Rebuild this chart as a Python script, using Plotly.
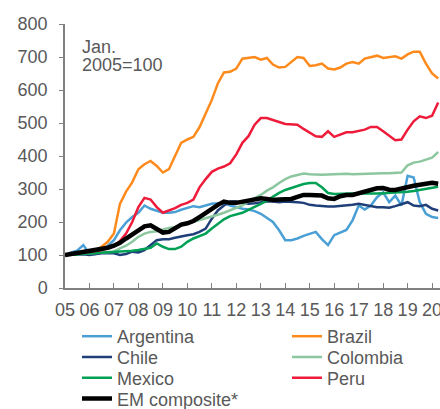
import pandas as pd
import plotly.graph_objects as go

# quarterly readings, Jan. 2005 = 100
dates = pd.date_range("2005-01-01", periods=62, freq="QS")

argentina = [100, 108, 113, 130, 104, 103, 115, 128, 145, 175, 198, 215,
             228, 250, 240, 233, 228, 228, 230, 237, 243, 248, 245, 250,
             255, 257, 257, 250, 245, 240, 238, 233, 225, 212, 200, 175,
             145, 145, 150, 158, 165, 170, 148, 130, 160, 168, 176, 205,
             250, 238, 250, 275, 290, 260, 280, 250, 340, 335, 260, 225,
             215, 212]
brazil = [100, 103, 102, 105, 110, 112, 125, 140, 165, 255, 292, 320,
          360, 375, 385, 370, 350, 360, 400, 440, 450, 458, 487, 530,
          570, 620, 653, 655, 665, 695, 697, 700, 692, 697, 677, 668,
          670, 685, 700, 697, 673, 675, 680, 665, 662, 668, 680, 685,
          680, 695, 700, 704, 697, 700, 702, 695, 708, 716, 716, 680,
          650, 635]
chile = [100, 101, 103, 102, 100, 103, 105, 106, 105, 100, 103, 110,
         108, 115, 130, 145, 148, 148, 152, 157, 160, 163, 170, 180,
         210, 235, 250, 262, 262, 258, 255, 257, 260, 262, 262, 260,
         262, 262, 260, 258, 252, 250, 248, 247, 247, 248, 250, 252,
         255, 252, 248, 245, 245, 243, 248, 255, 260, 250, 248, 252,
         240, 235]
colombia = [100, 101, 102, 104, 105, 106, 106, 107, 110, 120, 128, 140,
            155, 165, 170, 172, 178, 182, 185, 190, 195, 200, 205, 210,
            215, 222, 228, 235, 242, 250, 262, 272, 282, 295, 305, 318,
            330, 338, 343, 347, 345, 343, 343, 344, 345, 345, 346, 345,
            346, 347, 348, 347, 348, 348, 348, 350, 372, 380, 383, 388,
            395, 412]
mexico = [100, 101, 103, 104, 106, 107, 106, 107, 108, 110, 112, 113,
          115, 118, 122, 135, 125, 118, 118, 125, 140, 150, 157, 165,
          180, 195, 208, 218, 222, 228, 237, 245, 255, 265, 277, 288,
          297, 303, 310, 315, 318, 318, 305, 288, 285, 286, 286, 287,
          287, 286, 285, 286, 287, 288, 288, 290, 292, 294, 297, 299,
          302, 307]
peru = [100, 102, 104, 106, 108, 112, 115, 120, 128, 142, 165, 200,
        245, 273, 268, 245, 228, 235, 242, 252, 258, 268, 305, 330,
        352, 362, 368, 378, 405, 440, 460, 495, 515, 515, 510, 503,
        497, 497, 495, 482, 470, 460, 458, 475, 458, 466, 472, 472,
        475, 480, 488, 488, 475, 462, 448, 450, 480, 505, 520, 515,
        522, 562]
em_composite = [100, 103, 106, 108, 110, 114, 118, 122, 128, 137, 150, 162,
                175, 187, 190, 178, 168, 170, 182, 192, 196, 203, 215, 228,
                240, 252, 262, 258, 258, 262, 265, 268, 272, 270, 267, 268,
                268, 270, 276, 282, 282, 282, 280, 272, 270, 278, 282, 282,
                287, 292, 298, 302, 303, 298, 297, 302, 307, 310, 313, 316,
                319, 316]

series = [
    ("Argentina", argentina, "#4a9fd5", 2.5),
    ("Brazil", brazil, "#ff8a1c", 2.5),
    ("Chile", chile, "#1f3f78", 2.5),
    ("Colombia", colombia, "#8cc7a0", 2.5),
    ("Mexico", mexico, "#00a055", 2.5),
    ("Peru", peru, "#ee1c3a", 2.5),
    ("EM composite*", em_composite, "#000000", 4.5),
]

W, H = 440, 409
grey = "#595959"
fs = 18

fig = go.Figure()
legends = {}
for i, (name, vals, col, w) in enumerate(series):
    # one small legend per entry so the two-column grid can be laid out
    key = "legend" if i == 0 else f"legend{i + 1}"
    row, column = divmod(i, 2)
    legends[key] = dict(
        x=(77 + 210 * column) / W, y=1 - (318 + 20.8 * row) / H,
        xref="container", yref="container", xanchor="left", yanchor="top",
        font=dict(size=fs, color=grey), itemwidth=30,
        bgcolor="rgba(0,0,0,0)")
    fig.add_trace(go.Scatter(x=dates, y=vals, name=name, mode="lines",
                             line=dict(color=col, width=w), legend=key))

fig.update_layout(
    width=W, height=H,
    margin=dict(l=65, r=0, t=24, b=121, autoexpand=False),
    plot_bgcolor="white", paper_bgcolor="white",
    font=dict(family="Liberation Sans, Arial", size=fs, color=grey),
    showlegend=True,
    annotations=[
        # title, mostly cut off by the top edge as in the source image
        dict(text="<b>Latam & EM International Reserves</b>",
             xref="paper", yref="paper", x=-0.072, y=1.062,
             xanchor="left", yanchor="bottom", showarrow=False,
             font=dict(size=26, color="#404040")),
        dict(text="Jan.", xref="paper", yref="paper",
             x=0.04, y=0.914, xanchor="left", yanchor="middle",
             showarrow=False, font=dict(size=fs, color=grey)),
        dict(text="2005=100", xref="paper", yref="paper",
             x=0.04, y=0.845, xanchor="left", yanchor="middle",
             showarrow=False, font=dict(size=fs, color=grey)),
    ],
    **legends,
)

fig.update_xaxes(
    type="date", range=["2005-01-01", "2020-04-28"],
    tickformat="%y", dtick="M12", tick0="2005-01-01",
    ticks="inside", ticklen=5, tickcolor="#808080",
    showline=True, linecolor="#808080", linewidth=1.5,
    showgrid=False, zeroline=False, ticklabelstandoff=5, automargin=False,
    ticklabeloverflow="allow",
)
fig.update_yaxes(
    range=[0, 800], dtick=100,
    ticks="outside", ticklen=4, tickcolor="#808080",
    showline=True, linecolor="#808080", linewidth=1.5,
    showgrid=False, zeroline=False, ticklabelstandoff=8, automargin=False,
)

# the page has a default 8px body margin; drop it so the figure fills the window
fig.write_html("out.html", config={"displayModeBar": False},
               post_script="document.body.style.margin='0';")
